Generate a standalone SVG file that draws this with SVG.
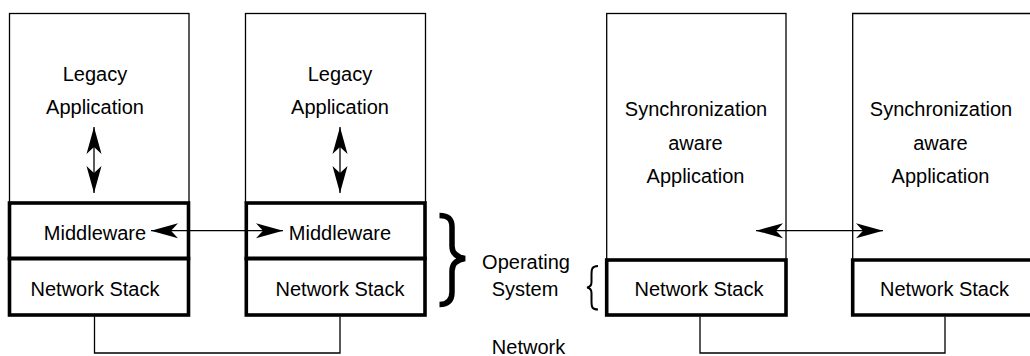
<svg xmlns="http://www.w3.org/2000/svg" width="1030" height="356" viewBox="0 0 1030 356">
  <style>
    .t { font-family: "Liberation Sans", Arial, Helvetica, sans-serif; font-size: 20px; fill: #000; text-anchor: middle; }
    .thin { fill: none; stroke: #000; stroke-width: 1.3; }
    .thick { fill: none; stroke: #000; stroke-width: 3.6; }
    .link { fill: none; stroke: #000; stroke-width: 1.3; }
  </style>
  <defs>
    <marker id="head" viewBox="-28 -8 29 16" refX="0" refY="0" markerWidth="29" markerHeight="16" markerUnits="userSpaceOnUse" orient="auto-start-reverse">
      <path d="M0,0 L-27,-7.5 L-20,0 L-27,7.5 Z" fill="#000"/>
    </marker>
  </defs>
  <rect width="1030" height="356" fill="#fff"/>

  <!-- host 1: legacy application -->
  <g id="host1">
    <rect class="thin" x="9.5" y="13.5" width="179.5" height="189.5"/>
    <text class="t" x="95" y="81">Legacy</text>
    <text class="t" x="95" y="114">Application</text>
    <rect class="thick" x="9.5" y="203" width="179" height="55.5"/>
    <text class="t" x="95" y="240">Middleware</text>
    <rect class="thick" x="9.5" y="258.5" width="179" height="56.5"/>
    <text class="t" x="95" y="296">Network Stack</text>
  </g>

  <!-- host 2: legacy application -->
  <g id="host2">
    <rect class="thin" x="245.5" y="13.5" width="180" height="189.5"/>
    <text class="t" x="340" y="81">Legacy</text>
    <text class="t" x="340" y="114">Application</text>
    <rect class="thick" x="246.3" y="203" width="178.7" height="55.5"/>
    <text class="t" x="340" y="240">Middleware</text>
    <rect class="thick" x="246.3" y="258.5" width="178.7" height="56.5"/>
    <text class="t" x="340" y="296">Network Stack</text>
  </g>

  <!-- operating system label with braces -->
  <g id="os-label">
    <path d="M439.5,215.5 C448,215.5 452,219 452,227 L452,246 C452,253 456,257 465,258.5 C456,260 452,264 452,271 L452,292 C452,300 448,304.5 439.5,304.5" fill="none" stroke="#000" stroke-width="5.5"/>
    <text class="t" x="526" y="269">Operating</text>
    <text class="t" x="525" y="296">System</text>
    <path d="M598,266 C592,266 591.5,269 591.5,274 L591.5,282 C591.5,285 590,287 587,287.5 C590,288 591.5,290 591.5,293 L591.5,302 C591.5,307 592,309.5 598,309.5" fill="none" stroke="#000" stroke-width="2"/>
    <text class="t" x="528.5" y="354">Network</text>
  </g>

  <!-- host 3: synchronization aware application -->
  <g id="host3">
    <rect class="thin" x="606.7" y="13.5" width="179.3" height="246.5"/>
    <text class="t" x="696" y="116">Synchronization</text>
    <text class="t" x="695.5" y="150">aware</text>
    <text class="t" x="695.5" y="183">Application</text>
    <rect class="thick" x="606.7" y="260" width="179.3" height="55"/>
    <text class="t" x="699" y="296">Network Stack</text>
  </g>

  <!-- host 4: synchronization aware application -->
  <g id="host4">
    <path class="thin" d="M852.7,260 V13.5 H1032"/>
    <text class="t" x="941" y="116">Synchronization</text>
    <text class="t" x="940.5" y="150">aware</text>
    <text class="t" x="940.5" y="183">Application</text>
    <path class="thick" d="M1032,260 H852.7 V315 H1032"/>
    <text class="t" x="944.5" y="296">Network Stack</text>
  </g>

  <!-- connectors -->
  <g id="connectors">
    <line class="link" x1="94" y1="127" x2="94" y2="193" marker-start="url(#head)" marker-end="url(#head)"/>
    <line class="link" x1="340" y1="127" x2="340" y2="193" marker-start="url(#head)" marker-end="url(#head)"/>
    <line class="link" x1="151" y1="230.7" x2="283" y2="230.7" marker-start="url(#head)" marker-end="url(#head)"/>
    <line class="link" x1="756" y1="230.7" x2="883" y2="230.7" marker-start="url(#head)" marker-end="url(#head)"/>
    <path class="link" d="M94.5,316.5 V353 H340 V316.5"/>
    <path class="link" d="M700,316.5 V353 H945 V316.5"/>
  </g>
</svg>
